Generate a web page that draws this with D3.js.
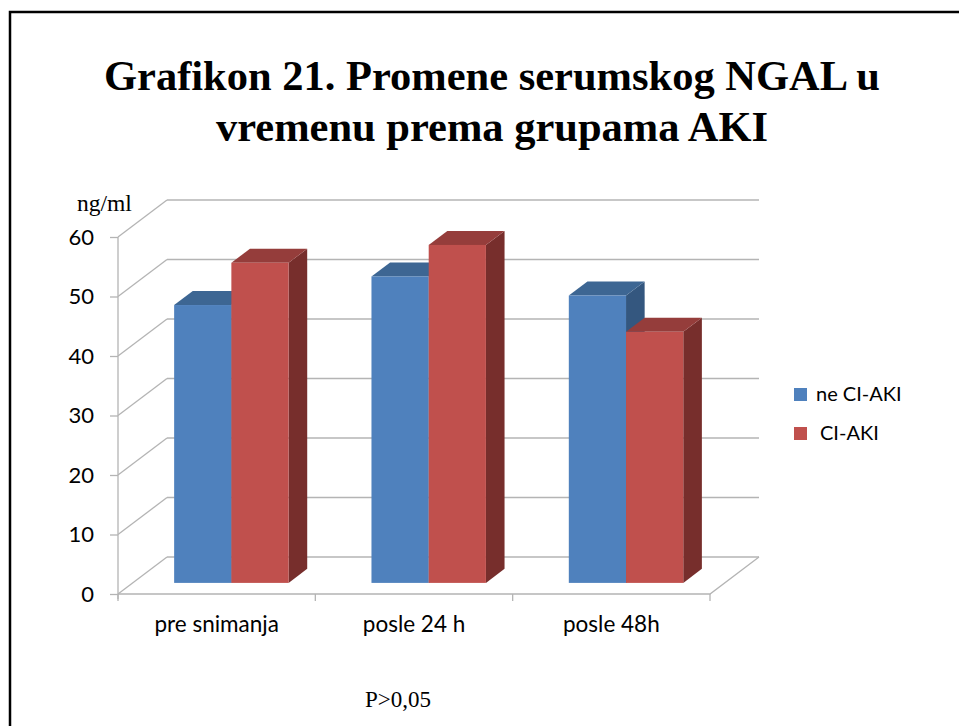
<!DOCTYPE html>
<html>
<head>
<meta charset="utf-8">
<script src="https://cdn.jsdelivr.net/npm/d3@7"></script>
<style>
  html, body { margin: 0; padding: 0; background: #fff; }
  svg { display: block; }
</style>
</head>
<body>
<svg id="chart" width="959" height="726"></svg>
<script>
const categories = ["pre snimanja", "posle 24 h", "posle 48h"];
const seriesNames = ["ne CI-AKI", "CI-AKI"];
const neCIAKI = [46.7, 51.5, 48.3];
const CIAKI = [53.8, 56.8, 42.2];
const yTicks = [0, 10, 20, 30, 40, 50, 60];
const titleLines = ["Grafikon 21. Promene serumskog NGAL u", "vremenu prema grupama AKI"];
const unitLabel = "ng/ml";
const noteText = "P>0,05";

const series = [neCIAKI, CIAKI];
const colors = [
  { front: "#4F81BD", top: "#3D6693", side: "#34577F" },
  { front: "#C0504D", top: "#953D3B", side: "#772E2C" }
];

const svg = d3.select("#chart");
const sans = "Lato, 'Open Sans', sans-serif";
const serif = "'Liberation Serif', 'Times New Roman', serif";

// Outer frame (clipped at right and bottom like the reference)
svg.append("path")
  .attr("d", "M10,726 L10,12 L959,12")
  .attr("fill", "none").attr("stroke", "#000").attr("stroke-width", 2.5);

// Title
const title = svg.append("text")
  .attr("x", 492).attr("y", 90)
  .attr("text-anchor", "middle")
  .attr("font-family", serif).attr("font-weight", "bold").attr("font-size", 42.5)
  .attr("fill", "#000");
titleLines.forEach((t, i) => {
  title.append("tspan").attr("x", 492).attr("dy", i === 0 ? 0 : 51).text(t);
});

// Geometry
const depthDX = 49, depthDY = -37;
const y = d3.scaleLinear().domain([0, 60]).range([594, 237]);
const x0 = d3.scaleBand().domain(categories).range([118, 710]).padding(0);
const x1 = d3.scaleBand().domain(seriesNames)
  .range([x0.bandwidth() * 0.21, x0.bandwidth() * 0.79]).padding(0);

const gridColor = "#B4B4B4";
const g = svg.append("g");

// Back wall gridlines and left wall diagonals
yTicks.forEach(v => {
  const yy = y(v);
  g.append("line")
    .attr("x1", 118 + depthDX).attr("y1", yy + depthDY)
    .attr("x2", 710 + depthDX).attr("y2", yy + depthDY)
    .attr("stroke", gridColor).attr("stroke-width", 1.3);
  g.append("line")
    .attr("x1", 118).attr("y1", yy)
    .attr("x2", 118 + depthDX).attr("y2", yy + depthDY)
    .attr("stroke", gridColor).attr("stroke-width", 1.3);
});

// Floor outline
g.append("path")
  .attr("d", `M118,${y(0)} L710,${y(0)} L${710 + depthDX},${y(0) + depthDY}`)
  .attr("fill", "none").attr("stroke", gridColor).attr("stroke-width", 1.3);

// Vertical axis line + ticks
g.append("line")
  .attr("x1", 118).attr("y1", y(60)).attr("x2", 118).attr("y2", y(0) + 5)
  .attr("stroke", gridColor).attr("stroke-width", 1.3);
const yAxis = d3.axisLeft(y).tickValues(yTicks).tickSize(8).tickPadding(16).tickFormat(d3.format("d"));
const ya = svg.append("g").attr("transform", "translate(118,0)").call(yAxis);
ya.select(".domain").remove();
ya.selectAll(".tick line").attr("stroke", gridColor).attr("stroke-width", 1.3);
ya.selectAll(".tick text")
  .attr("font-family", sans).attr("font-size", 22).attr("fill", "#000");

// Category ticks and labels
const xAxis = d3.axisBottom(x0).tickSize(0).tickPadding(22);
const xa = svg.append("g").attr("transform", `translate(0,${y(0)})`).call(xAxis);
xa.select(".domain").remove();
xa.selectAll(".tick text")
  .attr("font-family", sans).attr("font-size", 22.5).attr("fill", "#000");
[118, 118 + x0.bandwidth(), 118 + 2 * x0.bandwidth(), 710].forEach(xx => {
  svg.append("line").attr("x1", xx).attr("y1", y(0)).attr("x2", xx).attr("y2", y(0) + 7)
    .attr("stroke", gridColor).attr("stroke-width", 1.3);
});

// Bars (3D)
const frontFrac = 0.30, barFrac = 0.38;
const fdx = depthDX * frontFrac, fdy = depthDY * frontFrac;
const bdx = depthDX * barFrac, bdy = depthDY * barFrac;
const bars = svg.append("g");
categories.forEach((c, ci) => {
  seriesNames.forEach((s, si) => {
    const v = series[si][ci];
    const xl = x0(c) + x1(s) + fdx;
    const xr = xl + x1.bandwidth();
    const yt = y(v) + fdy;
    const yb = y(0) + fdy;
    const col = colors[si];
    bars.append("path")
      .attr("d", `M${xr},${yt} L${xr + bdx},${yt + bdy} L${xr + bdx},${yb + bdy} L${xr},${yb} Z`)
      .attr("fill", col.side);
    bars.append("path")
      .attr("d", `M${xl},${yt} L${xl + bdx},${yt + bdy} L${xr + bdx},${yt + bdy} L${xr},${yt} Z`)
      .attr("fill", col.top);
    bars.append("rect")
      .attr("x", xl).attr("y", yt).attr("width", x1.bandwidth()).attr("height", yb - yt)
      .attr("fill", col.front);
  });
});

// Unit label
svg.append("text").attr("x", 77).attr("y", 211)
  .attr("font-family", serif).attr("font-size", 23.5).attr("fill", "#000").text(unitLabel);

// Legend
const legend = svg.append("g");
seriesNames.forEach((s, i) => {
  const ly = 388 + i * 39;
  legend.append("rect").attr("x", 794).attr("y", ly).attr("width", 13).attr("height", 13)
    .attr("fill", colors[i].front);
  legend.append("text").attr("x", i === 0 ? 816 : 820).attr("y", ly + 13)
    .attr("font-family", sans).attr("font-size", 20).attr("fill", "#000").text(s);
});

// Note
svg.append("text").attr("x", 365).attr("y", 707)
  .attr("font-family", serif).attr("font-size", 23).attr("fill", "#000").text(noteText);
</script>
</body>
</html>
